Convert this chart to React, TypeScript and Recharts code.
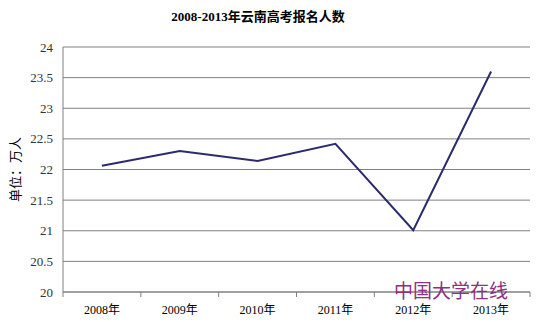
import { CartesianGrid, Line, LineChart, XAxis, YAxis } from "recharts";

const years = ["2008年", "2009年", "2010年", "2011年", "2012年", "2013年"];
const applicants = [22.06, 22.3, 22.14, 22.42, 21.01, 23.6];
const yTicks = [20, 20.5, 21, 21.5, 22, 22.5, 23, 23.5, 24];
const bandEdges = [-0.5, 0.5, 1.5, 2.5, 3.5, 4.5, 5.5];

const data = years.map((y, i) => ({ i, year: y, value: applicants[i] }));

const FONT = '"Liberation Serif", "Noto Sans CJK SC", serif';

export default function App() {
  return (
    <div style={{ position: "relative", width: 538, height: 322, background: "#fff" }}>
      <style>{`body{margin:0}`}</style>
      <div
        style={{
          position: "absolute",
          top: 6,
          left: 0,
          width: 516,
          textAlign: "center",
          fontFamily: FONT,
          fontWeight: "bold",
          fontSize: 13,
          color: "#000",
        }}
      >
        2008-2013年云南高考报名人数
      </div>
      <LineChart
        width={538}
        height={322}
        data={data}
        margin={{ top: 47, right: 8, bottom: 0, left: 0 }}
      >
        <CartesianGrid vertical={false} stroke="#808080" strokeOpacity={1} />
        <XAxis
          dataKey="i"
          type="number"
          domain={[-0.5, 5.5]}
          ticks={bandEdges}
          tickFormatter={() => ""}
          height={5}
          tickSize={5}
          stroke="#808080"
          axisLine={{ stroke: "#808080" }}
        />
        <XAxis
          xAxisId="lab"
          dataKey="i"
          type="number"
          domain={[-0.5, 5.5]}
          ticks={[0, 1, 2, 3, 4, 5]}
          tickFormatter={(v: number) => years[v]}
          height={25}
          axisLine={false}
          tickLine={false}
          tick={{ fill: "#000", fontSize: 12, fontFamily: FONT }}
          interval={0}
        />
        <YAxis
          domain={[20, 24]}
          ticks={yTicks}
          width={63}
          tickLine={false}
          axisLine={{ stroke: "#808080" }}
          tick={{ fill: "#333", fontSize: 13, fontFamily: FONT }}
          tickMargin={4}
          interval={0}
          label={{
            value: "单位：万人",
            angle: -90,
            position: "insideLeft",
            offset: 15,
            style: { fill: "#000", fontSize: 13, fontFamily: FONT, textAnchor: "middle" },
          }}
        />
        <YAxis
          yAxisId="r"
          orientation="right"
          domain={[20, 24]}
          width={0}
          tick={false}
          tickLine={false}
          axisLine={{ stroke: "#808080" }}
        />
        <Line
          dataKey="value"
          type="linear"
          stroke="#2b2b6e"
          strokeWidth={2}
          dot={false}
          isAnimationActive={false}
        />
      </LineChart>
      <div
        style={{
          position: "absolute",
          left: 394,
          top: 279,
          fontFamily: '"Noto Sans CJK SC", sans-serif',
          fontSize: 19,
          color: "#8e2f82",
          lineHeight: "22px",
        }}
      >
        中国大学在线
      </div>
    </div>
  );
}
